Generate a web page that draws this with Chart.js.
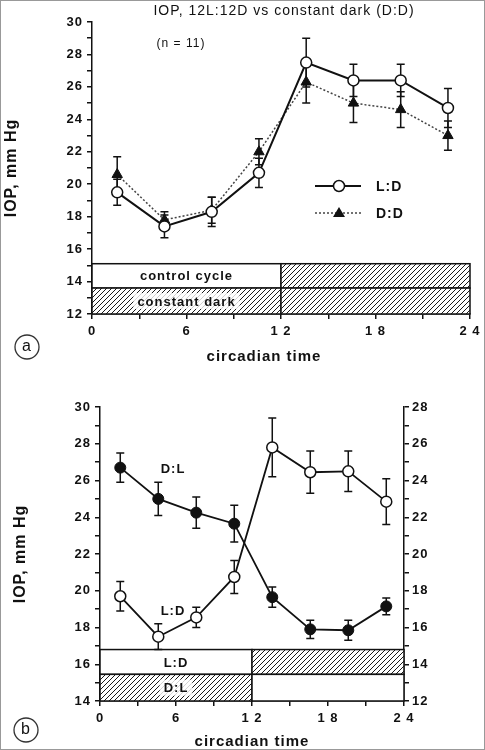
<!DOCTYPE html>
<html>
<head>
<meta charset="utf-8">
<script src="https://cdn.jsdelivr.net/npm/chart.js@4.4.1/dist/chart.umd.min.js"></script>
<style>
  body { margin: 0; background: #fff; }
  #wrap { position: relative; width: 485px; height: 750px; }
  canvas { display: block; }
  #frame { position: absolute; left: 0; top: 0; width: 485px; height: 750px; box-sizing: border-box; border: 1px solid #999; pointer-events: none; }
</style>
</head>
<body>
<div id="wrap">
  <canvas id="chartA" width="485" height="375"></canvas>
  <canvas id="chartB" width="485" height="375"></canvas>
  <div id="frame"></div>
</div>
<script>
// sampling times (circadian hours)
const times = [1.6, 4.6, 7.6, 10.6, 13.6, 16.6, 19.6, 22.6];
const xTickLabels = ['0', '6', '1 2', '1 8', '2 4'];

// panel a: 12L:12D vs constant dark
const ldA = [19.5, 17.4, 18.3, 20.7, 27.5, 26.4, 26.4, 24.7];
const ldErrA = [0.8, 0.7, 0.9, 0.9, 1.5, 1.0, 1.0, 1.2];
const ddA = [20.6, 17.8, 18.4, 22.0, 26.3, 25.0, 24.6, 23.0];
const ddErrA = [1.1, 0.5, 0.8, 0.8, 1.3, 1.2, 1.1, 0.9];

// panel b: L:D (left axis) vs D:L (right axis)
const ldB = [19.7, 17.5, 18.55, 20.75, 27.8, 26.45, 26.5, 24.85];
const ldErrB = [0.8, 0.7, 0.55, 0.9, 1.6, 1.15, 1.1, 1.25];
const dlB = [24.7, 23.0, 22.25, 21.65, 17.65, 15.9, 15.85, 17.15];
const dlErrB = [0.8, 0.9, 0.85, 1.0, 0.55, 0.5, 0.55, 0.45];

// light/dark bars under the curves (hours, IOP units)
const bandsA = [
  { from: 0, to: 12, low: 13.6, high: 15.1, dark: false, text: 'control cycle' },
  { from: 12, to: 24, low: 13.6, high: 15.1, dark: true },
  { from: 0, to: 12, low: 12, high: 13.6, dark: true, text: 'constant dark' },
  { from: 12, to: 24, low: 12, high: 13.6, dark: true }
];
const bandsB = [
  { from: 0, to: 12, low: 15.45, high: 16.8, dark: false, text: 'L:D' },
  { from: 12, to: 24, low: 15.45, high: 16.8, dark: true },
  { from: 0, to: 12, low: 14, high: 15.45, dark: true, text: 'D:L' },
  { from: 12, to: 24, low: 14, high: 15.45, dark: false }
];

const FONT = 'Arial, "Liberation Sans", sans-serif';
const INK = '#111';

const pts = (ys) => times.map((t, i) => ({ x: t, y: ys[i] }));

function makeHatch(ctx) {
  const c = document.createElement('canvas');
  c.width = 5; c.height = 5;
  const g = c.getContext('2d');
  g.strokeStyle = '#1a1a1a';
  g.lineWidth = 1;
  g.beginPath();
  g.moveTo(0, 5); g.lineTo(5, 0);
  g.moveTo(-1, 1); g.lineTo(1, -1);
  g.moveTo(4, 6); g.lineTo(6, 4);
  g.stroke();
  return ctx.createPattern(c, 'repeat');
}

function drawBands(chart, bands, yId) {
  const ctx = chart.ctx;
  const xs = chart.scales.x, ys = chart.scales[yId];
  const pat = makeHatch(ctx);
  ctx.save();
  bands.forEach(b => {
    const l = xs.getPixelForValue(b.from), r = xs.getPixelForValue(b.to);
    const t = ys.getPixelForValue(b.high), bt = ys.getPixelForValue(b.low);
    ctx.fillStyle = '#fff';
    ctx.fillRect(l, t, r - l, bt - t);
    if (b.dark) {
      ctx.fillStyle = pat;
      ctx.fillRect(l, t, r - l, bt - t);
    }
    ctx.strokeStyle = INK;
    ctx.lineWidth = 1.5;
    ctx.strokeRect(l, t, r - l, bt - t);
  });
  bands.forEach(b => {
    if (!b.text) return;
    const l = xs.getPixelForValue(b.from), r = xs.getPixelForValue(b.to);
    const t = ys.getPixelForValue(b.high), bt = ys.getPixelForValue(b.low);
    const cx = (l + r) / 2, cy = (t + bt) / 2;
    ctx.font = 'bold 13px ' + FONT;
    ctx.textAlign = 'center';
    ctx.textBaseline = 'middle';
    if (b.dark) {
      const w = ctx.measureText(b.text).width;
      ctx.fillStyle = 'rgba(255,255,255,0.8)';
      ctx.fillRect(cx - w / 2 - 4, cy - 8, w + 8, 16);
    }
    ctx.fillStyle = INK;
    ctx.fillText(b.text, cx, cy + 1);
  });
  ctx.restore();
}

function drawErrors(chart) {
  const ctx = chart.ctx;
  const xs = chart.scales.x;
  ctx.save();
  ctx.strokeStyle = INK;
  ctx.lineWidth = 1.5;
  chart.data.datasets.forEach(ds => {
    if (!ds.errors) return;
    const ys = chart.scales[ds.yAxisID || 'y'];
    ds.data.forEach((p, j) => {
      const x = xs.getPixelForValue(p.x);
      const top = ys.getPixelForValue(p.y + ds.errors[j]);
      const bot = ys.getPixelForValue(p.y - ds.errors[j]);
      ctx.beginPath();
      ctx.moveTo(x, top); ctx.lineTo(x, bot);
      ctx.moveTo(x - 4, top); ctx.lineTo(x + 4, top);
      ctx.moveTo(x - 4, bot); ctx.lineTo(x + 4, bot);
      ctx.stroke();
    });
  });
  ctx.restore();
}

function text(ctx, str, x, y, font, align) {
  ctx.font = font;
  ctx.textAlign = align || 'center';
  ctx.textBaseline = 'middle';
  ctx.fillStyle = INK;
  ctx.fillText(str, x, y);
}

function circleLabel(ctx, ch, x, y) {
  ctx.beginPath();
  ctx.arc(x, y, 12, 0, Math.PI * 2);
  ctx.strokeStyle = '#333';
  ctx.lineWidth = 1.3;
  ctx.stroke();
  text(ctx, ch, x, y, '16px ' + FONT);
}

const spacing = {
  id: 'spacing',
  beforeDraw(chart) { chart.ctx.letterSpacing = '1px'; }
};

const tickFont = { family: FONT, size: 13, weight: 'bold' };
const titleFont = { family: FONT, size: 16, weight: 'bold' };

function yScale(min, max, pos, width, title, titlePad) {
  return {
    type: 'linear', min: min, max: max, position: pos,
    afterFit(s) { s.width = width; },
    ticks: {
      stepSize: 1, autoSkip: false, color: INK, font: tickFont, padding: pos === 'left' ? 4 : 3,
      callback: v => (v % 2 === 0 ? v : '')
    },
    grid: { drawOnChartArea: false, tickLength: 5, color: INK, lineWidth: 1.5 },
    border: { color: INK, width: 1.5 },
    title: title ? { display: true, text: title, color: INK, font: titleFont, padding: { top: titlePad, bottom: 0 } } : { display: false }
  };
}

function xScale(height, titlePad, showTitle) {
  return {
    type: 'linear', min: 0, max: 24,
    afterFit(s) { s.height = height; },
    ticks: {
      stepSize: 3, autoSkip: false, maxRotation: 0, color: INK, font: tickFont, padding: 5,
      callback: v => (v % 6 === 0 ? xTickLabels[v / 6] : '')
    },
    grid: { drawOnChartArea: false, tickLength: 5, color: INK, lineWidth: 1.5 },
    border: { color: INK, width: 1.5 },
    title: { display: showTitle, text: 'circadian time', color: INK, font: { family: FONT, size: 15, weight: 'bold' }, padding: { top: 0, bottom: titlePad } }
  };
}

const common = {
  responsive: false,
  animation: false,
  devicePixelRatio: 1,
  events: [],
  plugins: { legend: { display: false }, tooltip: { enabled: false } }
};

// ---------- panel a ----------
new Chart(document.getElementById('chartA').getContext('2d'), {
  type: 'line',
  data: {
    datasets: [
      {
        label: 'L:D', data: pts(ldA), errors: ldErrA,
        borderColor: INK, borderWidth: 2,
        pointStyle: 'circle', pointRadius: 5.5, pointBackgroundColor: '#fff', pointBorderColor: INK, pointBorderWidth: 1.5
      },
      {
        label: 'D:D', data: pts(ddA), errors: ddErrA,
        borderColor: '#444', borderWidth: 1.5, borderDash: [2, 2],
        pointStyle: 'triangle', pointRadius: 6, pointBackgroundColor: INK, pointBorderColor: INK, pointBorderWidth: 1
      }
    ]
  },
  options: Object.assign({}, common, {
    layout: { padding: { top: 22, right: 15, left: 0, bottom: 0 } },
    scales: {
      x: xScale(61, 9, false),
      y: yScale(12, 30, 'left', 92, 'IOP, mm Hg', 1.5)
    }
  }),
  plugins: [spacing, {
    id: 'extrasA',
    beforeDatasetsDraw(chart) {
      drawBands(chart, bandsA, 'y');
      drawErrors(chart);
    },
    afterDraw(chart) {
      const ctx = chart.ctx;
      ctx.save();
      text(ctx, 'IOP, 12L:12D vs constant dark (D:D)', 284, 11, '14px ' + FONT);
      text(ctx, '(n = 11)', 181, 44, '12px ' + FONT);
      // x-axis title sits left of centre in the original
      text(ctx, 'circadian time', 264, 357, 'bold 15px ' + FONT);
      // legend
      ctx.strokeStyle = INK; ctx.lineWidth = 2;
      ctx.beginPath(); ctx.moveTo(315, 186); ctx.lineTo(361, 186); ctx.stroke();
      ctx.beginPath(); ctx.arc(339, 186, 5.5, 0, Math.PI * 2);
      ctx.fillStyle = '#fff'; ctx.fill(); ctx.lineWidth = 1.5; ctx.stroke();
      ctx.strokeStyle = '#444'; ctx.lineWidth = 1.5; ctx.setLineDash([2, 2]);
      ctx.beginPath(); ctx.moveTo(315, 213); ctx.lineTo(361, 213); ctx.stroke();
      ctx.setLineDash([]);
      ctx.beginPath(); ctx.moveTo(339, 207); ctx.lineTo(345, 217); ctx.lineTo(333, 217); ctx.closePath();
      ctx.fillStyle = INK; ctx.fill();
      text(ctx, 'L:D', 376, 187, 'bold 14px ' + FONT, 'left');
      text(ctx, 'D:D', 376, 214, 'bold 14px ' + FONT, 'left');
      circleLabel(ctx, 'a', 27, 347);
      ctx.restore();
    }
  }]
});

// ---------- panel b ----------
new Chart(document.getElementById('chartB').getContext('2d'), {
  type: 'line',
  data: {
    datasets: [
      {
        label: 'L:D', data: pts(ldB), errors: ldErrB, yAxisID: 'y',
        borderColor: INK, borderWidth: 1.8,
        pointStyle: 'circle', pointRadius: 5.5, pointBackgroundColor: '#fff', pointBorderColor: INK, pointBorderWidth: 1.5
      },
      {
        label: 'D:L', data: pts(dlB), errors: dlErrB, yAxisID: 'y2',
        borderColor: INK, borderWidth: 1.8,
        pointStyle: 'circle', pointRadius: 5.5, pointBackgroundColor: INK, pointBorderColor: INK, pointBorderWidth: 1
      }
    ]
  },
  options: Object.assign({}, common, {
    layout: { padding: { top: 32, right: 0, left: 0, bottom: 0 } },
    scales: {
      x: xScale(49, -1, true),
      y: yScale(14, 30, 'left', 100, 'IOP, mm Hg', 11),
      y2: yScale(12, 28, 'right', 81, null, 0)
    }
  }),
  plugins: [spacing, {
    id: 'extrasB',
    beforeDatasetsDraw(chart) {
      drawBands(chart, bandsB, 'y');
      drawErrors(chart);
    },
    afterDraw(chart) {
      const ctx = chart.ctx;
      ctx.save();
      text(ctx, 'D:L', 173, 94, 'bold 13px ' + FONT);
      text(ctx, 'L:D', 173, 236, 'bold 13px ' + FONT);
      circleLabel(ctx, 'b', 26, 355);
      ctx.restore();
    }
  }]
});
</script>
</body>
</html>
